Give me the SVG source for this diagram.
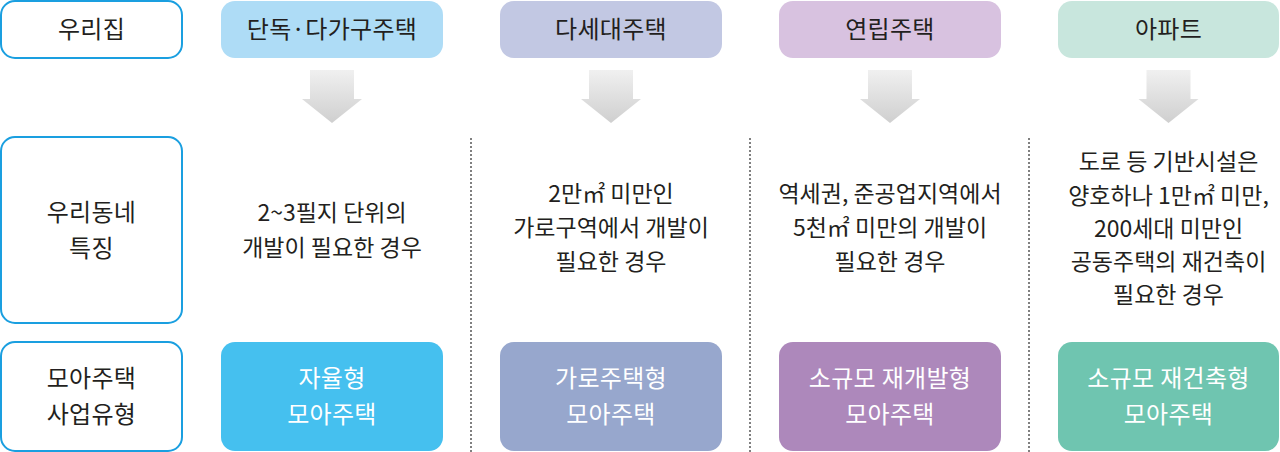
<svg xmlns="http://www.w3.org/2000/svg" width="1280" height="452" viewBox="0 0 1280 452">
<defs>
<linearGradient id="ag" x1="0" y1="0" x2="0" y2="1">
<stop offset="0" stop-color="#f0f0f0"/>
<stop offset="1" stop-color="#cfcfcf"/>
</linearGradient>
<style>
text{font-family:"Noto Sans CJK KR","Noto Sans",sans-serif;text-anchor:middle;fill:#231f20}
.h{font-size:24px;letter-spacing:0.3px}
.b{font-size:23px;letter-spacing:0px}
.w{fill:#ffffff;font-size:24px;letter-spacing:0.3px}
.lab{fill:#ffffff;stroke:#1a9fe0;stroke-width:2}
.dot{stroke:#808080;stroke-width:2;stroke-dasharray:2 2}
</style>
</defs>
<rect width="1280" height="452" fill="#ffffff"/>
<g id="labels">
<g id="label-home"><rect class="lab" x="1" y="1" width="181" height="57" rx="14"/><text class="h" x="91.5" y="38">우리집</text></g>
<g id="label-area"><rect class="lab" x="1" y="137" width="181" height="186" rx="14"/><text class="h" x="91.5" y="221">우리동네</text><text class="h" x="91.5" y="257">특징</text></g>
<g id="label-type"><rect class="lab" x="1" y="342" width="181" height="109" rx="14"/><text class="h" x="91.5" y="387">모아주택</text><text class="h" x="91.5" y="423">사업유형</text></g>
</g>
<g id="col1">
<rect x="221" y="1" width="222" height="57" rx="14" fill="#aedcf6"/><text class="h" x="332" y="38">단독·다가구주택</text>
<text class="b" x="332" y="221">2~3필지 단위의</text><text class="b" x="332" y="256">개발이 필요한 경우</text>
<rect x="221" y="342" width="222" height="109" rx="14" fill="#45c0ef"/><text class="w" x="332" y="387">자율형</text><text class="w" x="332" y="423">모아주택</text>
</g>
<g id="col2">
<rect x="500" y="1" width="222" height="57" rx="14" fill="#c2c8e3"/><text class="h" x="611" y="38">다세대주택</text>
<text class="b" x="611" y="202">2만㎡ 미만인</text><text class="b" x="611" y="236">가로구역에서 개발이</text><text class="b" x="611" y="270">필요한 경우</text>
<rect x="500" y="342" width="222" height="109" rx="14" fill="#97a7cd"/><text class="w" x="611" y="387">가로주택형</text><text class="w" x="611" y="423">모아주택</text>
</g>
<g id="col3">
<rect x="779" y="1" width="222" height="57" rx="14" fill="#d8c2e0"/><text class="h" x="890" y="38">연립주택</text>
<text class="b" x="890" y="202">역세권, 준공업지역에서</text><text class="b" x="890" y="236">5천㎡ 미만의 개발이</text><text class="b" x="890" y="270">필요한 경우</text>
<rect x="779" y="342" width="222" height="109" rx="14" fill="#ad88bb"/><text class="w" x="890" y="387">소규모 재개발형</text><text class="w" x="890" y="423">모아주택</text>
</g>
<g id="col4">
<rect x="1058" y="1" width="221" height="57" rx="14" fill="#c8e6dd"/><text class="h" x="1168.5" y="38">아파트</text>
<text class="b" x="1168.5" y="170">도로 등 기반시설은</text><text class="b" x="1168.5" y="204">양호하나 1만㎡ 미만,</text><text class="b" x="1168.5" y="237">200세대 미만인</text><text class="b" x="1168.5" y="270">공동주택의 재건축이</text><text class="b" x="1168.5" y="303">필요한 경우</text>
<rect x="1058" y="342" width="221" height="109" rx="14" fill="#6fc5b0"/><text class="w" x="1168.5" y="387">소규모 재건축형</text><text class="w" x="1168.5" y="423">모아주택</text>
</g>
<g id="connectors">
<path d="M310 70H354V99H362L332 123L302 99H310Z" fill="url(#ag)"/>
<path d="M589 70H633V99H641L611 123L581 99H589Z" fill="url(#ag)"/>
<path d="M868 70H912V99H920L890 123L860 99H868Z" fill="url(#ag)"/>
<path d="M1146.5 70H1190.5V99H1198.5L1168.5 123L1138.5 99H1146.5Z" fill="url(#ag)"/>
<line class="dot" x1="471" y1="138" x2="471" y2="452"/>
<line class="dot" x1="750" y1="138" x2="750" y2="452"/>
<line class="dot" x1="1029" y1="138" x2="1029" y2="452"/>
</g>
</svg>
